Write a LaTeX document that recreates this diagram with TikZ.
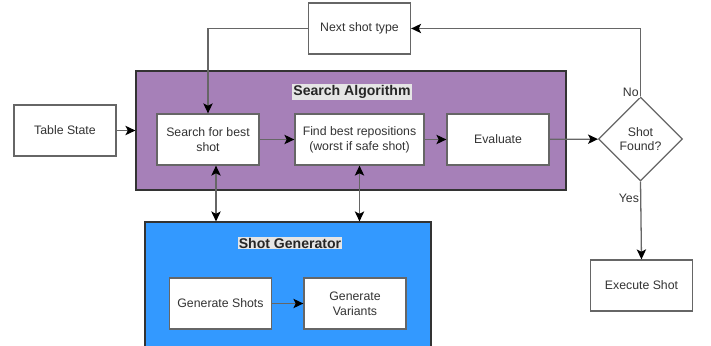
\documentclass[tikz,border=0pt]{standalone}
\usepackage{fontspec}
\setmainfont{Liberation Sans}
\usetikzlibrary{shapes.geometric,arrows.meta}
\definecolor{algo}{HTML}{A680B8}
\definecolor{gen}{HTML}{3399FF}
\definecolor{edge}{HTML}{666666}
\definecolor{txt}{HTML}{333333}
\begin{document}
\begin{tikzpicture}[x=0.03cm, y=-0.03cm,
    box/.style = {draw=edge, fill=white, line width=1.1pt, minimum width=3.06cm, minimum height=1.53cm, align=center, text=txt, font=\fontsize{10.5}{12.5}\selectfont},
    group/.style = {draw=black!80, line width=1pt, inner sep=0},
    title/.style = {fill=black!10, inner sep=1pt, text=black!85, font=\bfseries\fontsize{12}{14}\selectfont},
    lbl/.style = {fill=white, inner sep=1pt, text=txt, font=\fontsize{10.5}{12}\selectfont},
    arr/.style = {draw=edge, line width=1.1pt, -{Stealth[black,length=8.5pt,width=8pt,inset=2pt]}},
    dbl/.style = {draw=edge, line width=1.1pt, {Stealth[black,length=8.5pt,width=8pt,inset=2pt]}-{Stealth[black,length=8.5pt,width=8pt,inset=2pt]}}]
    \clip (0,0) rectangle (711,346);

    % the two grouping panels
    \node[group, fill=algo, minimum width=12.9cm, minimum height=3.57cm] (algo) at (351,130.5) {};
    \node[group, fill=gen, minimum width=8.58cm, minimum height=4.14cm] (sg) at (288,291) {};
    \node[title] (algot) at (352,92) {Search Algorithm};
    \node[title] (sgt) at (290,243) {Shot Generator};

    \node[box] (ts) at (65,130.5) {Table State};
    \node[box] (sb) at (208,139.5) {Search for best\\shot};
    \node[box, minimum width=3.87cm] (fb) at (359.5,139.5) {Find best repositions\\(worst if safe shot)};
    \node[box] (ev) at (498,139.5) {Evaluate};
    \node[box] (nx) at (359.5,28.5) {Next shot type};
    \node[box, diamond, minimum width=2.52cm, minimum height=2.52cm, inner sep=0] (dec) at (640.5,139) {Shot\\Found?};
    \node[box] (ex) at (641.5,285.5) {Execute Shot};
    \node[box] (gs) at (220.5,303.5) {Generate Shots};
    \node[box] (gv) at (355,303.5) {Generate\\Variants};

    \draw[arr] (ts.east) -- (ts.east -| algo.west);
    \draw[arr] (sb) -- (fb);
    \draw[arr] (fb) -- (ev);
    \draw[arr] (ev) -- (dec);
    \draw[arr] (dec.north) |- node[lbl, pos=0.03, left=0pt] {No} (nx.east);
    \draw[arr] (nx.west) -| (sb.north);
    \draw[arr] (dec.south) -- node[lbl, pos=0.22, left=0pt] {Yes} (ex.north);
    \draw[dbl] ([xshift=0.24cm]sb.south) -- ([xshift=0.24cm]sb.south |- sg.north);
    \draw[dbl] (fb.south) -- (fb.south |- sg.north);
    \draw[arr] (gs) -- (gv);
\end{tikzpicture}
\end{document}
